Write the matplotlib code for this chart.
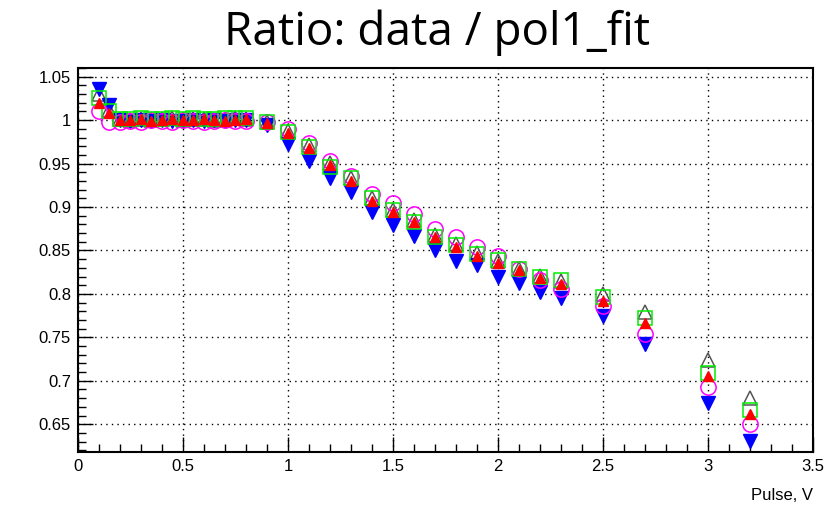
import numpy as np
import matplotlib
matplotlib.use('Agg')
import matplotlib.pyplot as plt
from matplotlib.ticker import MultipleLocator

# pulse amplitude, V
pulse = [0.1, 0.15, 0.2, 0.25, 0.3, 0.35, 0.4, 0.45, 0.5, 0.55, 0.6, 0.65,
         0.7, 0.75, 0.8, 0.9, 1.0, 1.1, 1.2, 1.3, 1.4, 1.5, 1.6, 1.7, 1.8,
         1.9, 2.0, 2.1, 2.2, 2.3, 2.5, 2.7, 3.0, 3.2]

# ratio data / pol1 fit for five channels
r_gray = [1.030, 1.012, 1.001, 1.000, 1.001, 1.000, 1.001, 1.002, 1.000,
          1.001, 1.001, 1.000, 1.001, 1.002, 1.001, 0.998, 0.988, 0.971,
          0.951, 0.933, 0.910, 0.897, 0.885, 0.868, 0.857, 0.847, 0.838,
          0.829, 0.821, 0.815, 0.800, 0.779, 0.724, 0.680]
r_green = [1.026, 1.011, 1.001, 1.001, 1.002, 1.001, 1.001, 1.002, 1.001,
           1.002, 1.001, 1.001, 1.002, 1.002, 1.003, 0.998, 0.986, 0.969,
           0.946, 0.933, 0.910, 0.896, 0.883, 0.865, 0.856, 0.846, 0.839,
           0.829, 0.819, 0.816, 0.796, 0.772, 0.709, 0.666]
r_red = [1.020, 1.008, 1.000, 1.000, 1.001, 0.999, 1.000, 1.001, 1.000,
         1.000, 1.001, 1.000, 0.999, 1.000, 1.001, 0.997, 0.985, 0.968,
         0.948, 0.930, 0.907, 0.894, 0.883, 0.865, 0.854, 0.844, 0.836,
         0.827, 0.818, 0.811, 0.792, 0.766, 0.705, 0.662]
r_magenta = [1.010, 0.998, 0.998, 0.999, 0.998, 1.000, 0.999, 0.998, 1.000,
             0.999, 0.998, 0.999, 1.000, 0.999, 0.999, 0.998, 0.990, 0.974,
             0.953, 0.936, 0.915, 0.905, 0.892, 0.875, 0.865, 0.854, 0.844,
             0.829, 0.816, 0.806, 0.786, 0.754, 0.693, 0.650]
r_blue = [1.036, 1.018, 1.000, 0.999, 1.000, 0.999, 1.000, 0.999, 0.999,
          1.000, 0.999, 1.000, 0.999, 1.000, 1.000, 0.994, 0.973, 0.953,
          0.933, 0.917, 0.894, 0.879, 0.867, 0.850, 0.838, 0.833, 0.819,
          0.812, 0.802, 0.795, 0.775, 0.742, 0.674, 0.631]

fig = plt.figure(figsize=(8.27, 5.18), dpi=100)
ax = fig.add_axes([0.0943, 0.1274, 0.8887, 0.7413])

ax.plot(pulse, r_gray, ls='none', marker='^', ms=10, mfc='none', mec='#555555', mew=1.1)
ax.plot(pulse, r_blue, ls='none', marker='v', ms=10, mfc='#0000ff', mec='#0000ff')
ax.plot(pulse, r_magenta, ls='none', marker='o', ms=11, mfc='none', mec='#ff00ff', mew=1.1)
ax.plot(pulse, r_green, ls='none', marker='s', ms=10.5, mfc='none', mec='#00ee00', mew=1.1)
ax.plot(pulse, r_red, ls='none', marker='^', ms=7, mfc='#ff0000', mec='#ff0000')

ax.set_xlim(0, 3.5)
ax.set_ylim(0.618, 1.06)
ax.xaxis.set_major_locator(MultipleLocator(0.5))
ax.xaxis.set_minor_locator(MultipleLocator(0.1))
ax.yaxis.set_major_locator(MultipleLocator(0.05))
ax.yaxis.set_minor_locator(MultipleLocator(0.01))
ax.xaxis.set_major_formatter(plt.FuncFormatter(lambda v, p: ('%g' % round(v, 2))))
ax.yaxis.set_major_formatter(plt.FuncFormatter(lambda v, p: ('%g' % round(v, 2))))
ax.tick_params(which='both', direction='in', top=False, right=False,
               labelsize=12, width=1)
ax.tick_params(which='major', length=11, pad=5)
ax.tick_params(which='minor', length=5.5)
for lab in ax.get_xticklabels() + ax.get_yticklabels():
    lab.set_fontfamily('Liberation Sans')
ax.grid(True, which='major', color='black', ls=(0, (1, 3)), lw=1)
for s in ax.spines.values():
    s.set_linewidth(1.5)

ax.set_xlabel('Pulse, V', fontsize=12, family='Liberation Sans', loc='right', labelpad=10)
fig.text(437 / 827, 1 - 45 / 518, 'Ratio: data / pol1_fit', fontsize=33,
         family='Open Sans', ha='center', va='baseline')

fig.savefig('out.png', dpi=100)
